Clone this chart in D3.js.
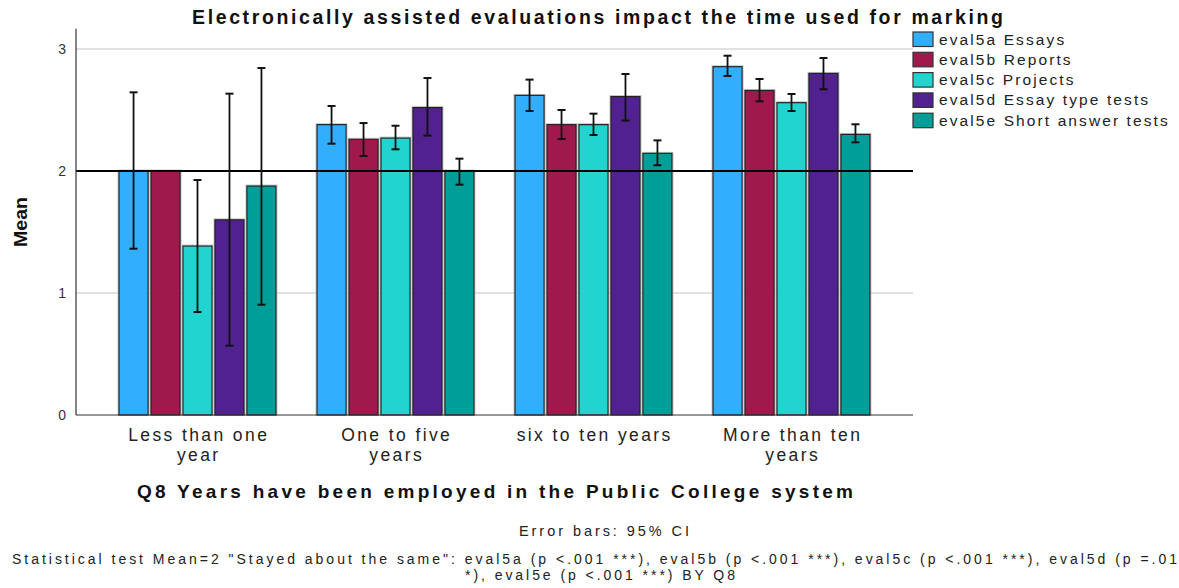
<!DOCTYPE html>
<html>
<head>
<meta charset="utf-8">
<script src="https://cdn.jsdelivr.net/npm/d3@7"></script>
<style>
  html, body { margin: 0; padding: 0; background: #fff; }
  svg { display: block; }
</style>
</head>
<body>
<svg id="chart" width="1179" height="588"></svg>
<script>
// ---------- data ----------
const categories = ["Less than one year", "One to five years", "six to ten years", "More than ten years"];
const categoryLines = [["Less than one", "year"], ["One to five", "years"], ["six to ten years"], ["More than ten", "years"]];
const series = ["eval5a Essays", "eval5b Reports", "eval5c Projects", "eval5d Essay type tests", "eval5e Short answer tests"];
const colors = ["#31aefe", "#a0194c", "#21d4d0", "#51218f", "#009e99"];

const meanEval5a = [2.00, 2.38, 2.62, 2.855];
const meanEval5b = [2.00, 2.26, 2.38, 2.66];
const meanEval5c = [1.385, 2.27, 2.38, 2.56];
const meanEval5d = [1.60, 2.52, 2.61, 2.80];
const meanEval5e = [1.877, 2.00, 2.145, 2.30];

const lowEval5a = [1.363, 2.224, 2.492, 2.779];
const lowEval5b = [null, 2.123, 2.262, 2.571];
const lowEval5c = [0.844, 2.178, 2.295, 2.492];
const lowEval5d = [0.568, 2.290, 2.413, 2.670];
const lowEval5e = [0.904, 1.888, 2.047, 2.235];

const highEval5a = [2.645, 2.533, 2.749, 2.945];
const highEval5b = [null, 2.393, 2.500, 2.754];
const highEval5c = [1.926, 2.371, 2.470, 2.631];
const highEval5d = [2.634, 2.762, 2.795, 2.926];
const highEval5e = [2.844, 2.101, 2.251, 2.383];

const yTicks = [0, 1, 2, 3];
const testValue = 2;

const titleText = "Electronically assisted evaluations impact the time used for marking";
const xTitleText = "Q8 Years have been employed in the Public College system";
const yTitleText = "Mean";
const noteErrorBars = "Error bars: 95% CI";
const noteLine1 = "Statistical test Mean=2 \"Stayed about the same\": eval5a (p <.001 ***), eval5b (p <.001 ***), eval5c (p <.001 ***), eval5d (p =.01";
const noteLine2 = "*), eval5e (p <.001 ***) BY Q8";

const means = [meanEval5a, meanEval5b, meanEval5c, meanEval5d, meanEval5e];
const lows = [lowEval5a, lowEval5b, lowEval5c, lowEval5d, lowEval5e];
const highs = [highEval5a, highEval5b, highEval5c, highEval5d, highEval5e];

const records = [];
categories.forEach((c, ci) => {
  series.forEach((s, si) => {
    records.push({cat: c, ser: s, si, mean: means[si][ci], low: lows[si][ci], high: highs[si][ci]});
  });
});

// ---------- layout ----------
const svg = d3.select("#chart");
const plotLeft = 76, plotRight = 913, plotBottom = 415;
const font = "'Liberation Sans', Arial, sans-serif";
const narrow = "'Liberation Sans Narrow', 'Arial Narrow', 'Liberation Sans', sans-serif";

const y = d3.scaleLinear().domain([0, 3.15]).range([plotBottom, 30.7]);
const x0 = d3.scaleBand().domain(categories).range([98.5, 890.5]).padding(0);
const x1 = d3.scaleBand().domain(series).range([20.5, 177.5]).paddingInner(0.09);
const color = d3.scaleOrdinal().domain(series).range(colors);

// gridlines
svg.append("g").selectAll("line").data(yTicks.filter(t => t !== 0 && t !== testValue)).join("line")
  .attr("x1", plotLeft).attr("x2", plotRight)
  .attr("y1", d => y(d)).attr("y2", d => y(d))
  .attr("stroke", "#c4c4c4").attr("stroke-width", 1);

// bars
const bars = svg.append("g");
bars.selectAll("rect.halo").data(records).join("rect")
  .attr("class", "halo")
  .attr("x", d => x0(d.cat) + x1(d.ser) - 1)
  .attr("y", d => y(d.mean) - 1)
  .attr("width", x1.bandwidth() + 2)
  .attr("height", d => y(0) - y(d.mean) + 1)
  .attr("fill", "none").attr("stroke", "#c8c8c8").attr("stroke-width", 1);
bars.selectAll("rect.bar").data(records).join("rect")
  .attr("class", "bar")
  .attr("x", d => x0(d.cat) + x1(d.ser))
  .attr("y", d => y(d.mean))
  .attr("width", x1.bandwidth())
  .attr("height", d => y(0) - y(d.mean))
  .attr("fill", d => color(d.ser))
  .attr("stroke", "#222").attr("stroke-width", 1.2);

// reference line at test value
svg.append("line")
  .attr("x1", plotLeft).attr("x2", plotRight)
  .attr("y1", y(testValue)).attr("y2", y(testValue))
  .attr("stroke", "#000").attr("stroke-width", 2.2);

// error bars
const eb = svg.append("g").selectAll("g").data(records.filter(d => d.low !== null)).join("g")
  .attr("transform", d => `translate(${x0(d.cat) + x1(d.ser) + x1.bandwidth() / 2},0)`);
eb.append("line").attr("x1", 0).attr("x2", 0)
  .attr("y1", d => y(d.low)).attr("y2", d => y(d.high))
  .attr("stroke", "#111").attr("stroke-width", 1.8);
eb.append("line").attr("x1", -4).attr("x2", 4)
  .attr("y1", d => y(d.high)).attr("y2", d => y(d.high))
  .attr("stroke", "#111").attr("stroke-width", 2);
eb.append("line").attr("x1", -4).attr("x2", 4)
  .attr("y1", d => y(d.low)).attr("y2", d => y(d.low))
  .attr("stroke", "#111").attr("stroke-width", 2);

// y axis
const yAxis = svg.append("g").attr("transform", `translate(${plotLeft},0)`)
  .call(d3.axisLeft(y).tickValues(yTicks).tickSize(0).tickPadding(10).tickFormat(d3.format("d")));
yAxis.select(".domain").remove();
yAxis.selectAll("text").attr("font-family", font).attr("font-size", 14).attr("fill", "#333");
svg.append("line").attr("x1", plotLeft).attr("x2", plotLeft)
  .attr("y1", y.range()[1] - 2).attr("y2", plotBottom)
  .attr("stroke", "#333").attr("stroke-width", 1.2);

// x axis (two-line labels drawn as separate texts per line)
const xAxis = svg.append("g").attr("transform", `translate(0,${plotBottom})`)
  .call(d3.axisBottom(x0).tickSize(0).tickPadding(0));
xAxis.select(".domain").remove();
xAxis.selectAll(".tick text").remove();
xAxis.selectAll(".tick").each(function(d, i) {
  const g = d3.select(this);
  categoryLines[i].forEach((ln, li) => {
    g.append("text").attr("x", 1.2).attr("y", 26 + li * 20)
      .attr("text-anchor", "middle")
      .attr("font-family", font).attr("font-size", 17.5).attr("fill", "#222")
      .attr("letter-spacing", "2.4px").text(ln);
  });
});
svg.append("line").attr("x1", plotLeft).attr("x2", plotRight)
  .attr("y1", plotBottom).attr("y2", plotBottom)
  .attr("stroke", "#333").attr("stroke-width", 1.2);

// title
svg.append("text").attr("x", 597.5).attr("y", 24).attr("text-anchor", "middle")
  .attr("font-family", font).attr("font-weight", "bold").attr("font-size", 19.5)
  .attr("textLength", 811).attr("lengthAdjust", "spacing")
  .attr("fill", "#111").text(titleText);

// x title
svg.append("text").attr("x", 495).attr("y", 498).attr("text-anchor", "middle")
  .attr("font-family", font).attr("font-weight", "bold").attr("font-size", 19)
  .attr("textLength", 716).attr("lengthAdjust", "spacing")
  .attr("fill", "#111").text(xTitleText);

// y title
svg.append("text").attr("transform", "translate(27,222) rotate(-90)").attr("text-anchor", "middle")
  .attr("font-family", font).attr("font-weight", "bold").attr("font-size", 18.5)
  .attr("textLength", 50).attr("lengthAdjust", "spacingAndGlyphs")
  .attr("fill", "#111").text(yTitleText);

// legend
const leg = svg.append("g").selectAll("g").data(series).join("g")
  .attr("transform", (d, i) => `translate(913,${32 + i * 20.3})`);
leg.append("rect").attr("width", 20).attr("height", 14.5)
  .attr("fill", d => color(d)).attr("stroke", "#333").attr("stroke-width", 1.2);
leg.append("text").attr("x", 26).attr("y", 12.5)
  .attr("font-family", font).attr("font-size", 15.5).attr("fill", "#222")
  .attr("letter-spacing", "2.1px").text(d => d);

// notes
svg.append("text").attr("x", 604).attr("y", 536).attr("text-anchor", "middle")
  .attr("font-family", narrow).attr("font-size", 14.5).attr("fill", "#222")
  .attr("textLength", 170).attr("lengthAdjust", "spacing").text(noteErrorBars);
svg.append("text").attr("x", 12).attr("y", 564)
  .attr("font-family", narrow).attr("font-size", 14).attr("fill", "#222")
  .attr("textLength", 1165).attr("lengthAdjust", "spacing").text(noteLine1);
svg.append("text").attr("x", 600).attr("y", 580).attr("text-anchor", "middle")
  .attr("font-family", narrow).attr("font-size", 14).attr("fill", "#222")
  .attr("textLength", 270).attr("lengthAdjust", "spacing").text(noteLine2);
</script>
</body>
</html>
